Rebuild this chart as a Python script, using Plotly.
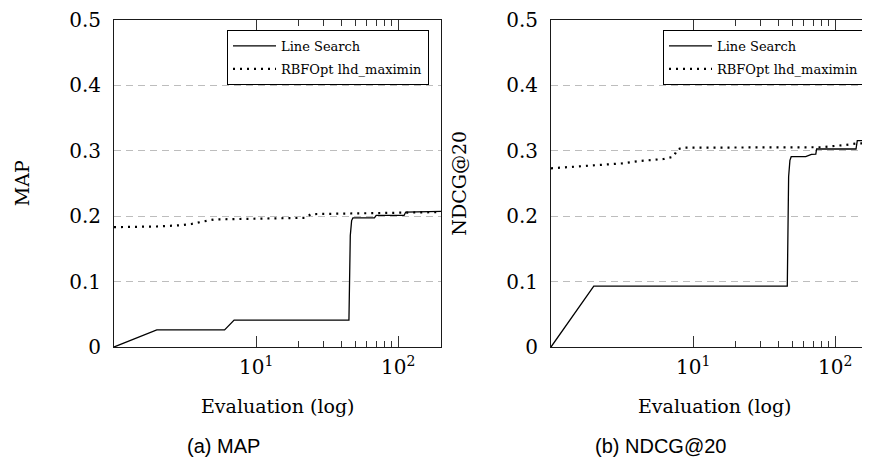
import math
import plotly.graph_objects as go

# ---------------- data ----------------
# (a) MAP
ls_map_x = [1, 2, 6, 7, 45, 46, 47, 48, 68, 70, 110, 113, 200]
ls_map_y = [0, 0.026, 0.026, 0.041, 0.041, 0.17, 0.193, 0.197, 0.197, 0.201, 0.201, 0.206, 0.207]
rb_map_x = [1, 2, 3, 3.5, 4.5, 5.1, 8, 15, 22.3, 24.3, 40, 67, 112, 200]
rb_map_y = [0.183, 0.184, 0.186, 0.1878, 0.1927, 0.1948, 0.1955, 0.1965, 0.1972, 0.2029, 0.2035, 0.205, 0.2055, 0.206]

# (b) NDCG@20
ls_ndcg_x = [1, 2, 46, 47, 48, 49, 62, 68, 73, 74, 140, 143, 200]
ls_ndcg_y = [0, 0.0928, 0.0928, 0.26, 0.285, 0.2905, 0.2905, 0.294, 0.2945, 0.3023, 0.3023, 0.315, 0.315]
rb_ndcg_x = [1, 1.48, 3.2, 4.2, 6.2, 7.3, 7.75, 8.5, 30, 80, 117, 145, 200]
rb_ndcg_y = [0.2728, 0.2752, 0.2804, 0.284, 0.287, 0.2905, 0.3018, 0.3043, 0.3045, 0.305, 0.3084, 0.311, 0.311]

series_names = ["Line Search", "RBFOpt lhd_maximin"]
y_ticks = [0, 0.1, 0.2, 0.3, 0.4, 0.5]
y_tick_text = ["0", "0.1", "0.2", "0.3", "0.4", "0.5"]
x_major = [10, 100]
x_major_text = ["10<sup>1</sup>", "10<sup>2</sup>"]
x_minor = [20, 30, 40, 50, 60, 70, 80, 90]
y_titles = ["MAP", "NDCG@20"]
x_title = "Evaluation (log)"
captions = ["(a) MAP", "(b) NDCG@20"]

# ---------------- layout constants ----------------
OFF = 8                      # page body margin of the html page
W, H = 870 - OFF, 458 - OFF  # figure size so it fits the window
SERIF = "DejaVu Serif"
SANS = "Liberation Sans"
ink = "#1a1a1a"

def px(x):
    return (x - OFF) / W

def py(y):
    return 1 - (y - OFF) / H

fig = go.Figure()

solid = dict(color="black", width=1.3)
dotted = dict(color="black", width=2.2, dash="2px,5px")

fig.add_trace(go.Scatter(x=ls_map_x, y=ls_map_y, mode="lines", line=solid, legendgroup="a1",
                         name=series_names[0], xaxis="x", yaxis="y", legend="legend"))
fig.add_trace(go.Scatter(x=rb_map_x, y=rb_map_y, mode="lines", line=dotted, legendgroup="a2",
                         name=series_names[1], xaxis="x", yaxis="y", legend="legend"))
fig.add_trace(go.Scatter(x=ls_ndcg_x, y=ls_ndcg_y, mode="lines", line=solid, legendgroup="b1",
                         name=series_names[0], xaxis="x2", yaxis="y2", legend="legend2"))
fig.add_trace(go.Scatter(x=rb_ndcg_x, y=rb_ndcg_y, mode="lines", line=dotted, legendgroup="b2",
                         name=series_names[1], xaxis="x2", yaxis="y2", legend="legend2"))

ydom = [py(347), py(19.5)]
decade = (441 - 114) / math.log10(200)

def xaxis(domain, rng, mirror):
    return dict(
        type="log", domain=domain, range=rng, automargin=False,
        tickvals=x_major, ticktext=x_major_text,
        ticks="inside", ticklen=11, tickwidth=1, tickcolor="#333333",
        minor=dict(tickvals=x_minor, ticks="inside", ticklen=6, tickwidth=1, tickcolor="#333333", showgrid=False),
        showgrid=False, zeroline=False,
        showline=True, linecolor=ink, linewidth=1, mirror=mirror,
        tickfont=dict(family=SERIF, size=20, color="black"),
        ticklabelstandoff=2, ticklabeloverflow="allow",
    )

def yaxis(anchor, title, mirror):
    return dict(
        domain=ydom, range=[0, 0.5], anchor=anchor, automargin=False,
        tickvals=y_ticks, ticktext=y_tick_text, ticks="",
        showgrid=True, gridcolor="#bdbdbd", gridwidth=1, griddash="7px,5px",
        zeroline=False, showline=True, linecolor=ink, linewidth=1, mirror=mirror,
        tickfont=dict(family=SERIF, size=20, color="black"),
        ticklabelstandoff=8, ticklabeloverflow="allow",
        title=dict(text=title, font=dict(family=SERIF, size=19, color="black"), standoff=34),
    )

fig.update_layout(
    template="none",
    width=W, height=H,
    margin=dict(l=0, r=0, t=0, b=0, autoexpand=False),
    paper_bgcolor="white", plot_bgcolor="white",
    xaxis=dict(**xaxis([px(114), px(441)], [0, math.log10(200)], "ticks"), anchor="y"),
    yaxis=yaxis("x", y_titles[0], True),
    xaxis2=dict(**xaxis([px(551), 1.0], [0, (870 - 551) / decade], "ticks"), anchor="y2"),
    yaxis2=yaxis("x2", y_titles[1], False),
    showlegend=True,
)

legend_common = dict(
    xanchor="left", yanchor="top",
    bgcolor="white", bordercolor="black", borderwidth=1,
    font=dict(family=SERIF, size=13, color="black"),
    itemwidth=43, tracegroupgap=3, itemclick=False,
)
fig.update_layout(
    legend=dict(x=px(227), y=py(30), **legend_common),
    legend2=dict(x=px(663), y=py(30), **legend_common),
)

# x-axis titles and sub-captions
ann = dict(xref="paper", yref="paper", showarrow=False, xanchor="center", yanchor="middle")
fig.add_annotation(text=x_title, x=px(277.5), y=py(406),
                   font=dict(family=SERIF, size=19, color="black"), **ann)
fig.add_annotation(text=x_title, x=px(714.5), y=py(406),
                   font=dict(family=SERIF, size=19, color="black"), **ann)
fig.add_annotation(text=captions[0], x=px(223), y=py(446),
                   font=dict(family=SANS, size=20, color="black"), **ann)
fig.add_annotation(text=captions[1], x=px(660.5), y=py(446),
                   font=dict(family=SANS, size=20, color="black"), **ann)

fig.write_html("out.html")
